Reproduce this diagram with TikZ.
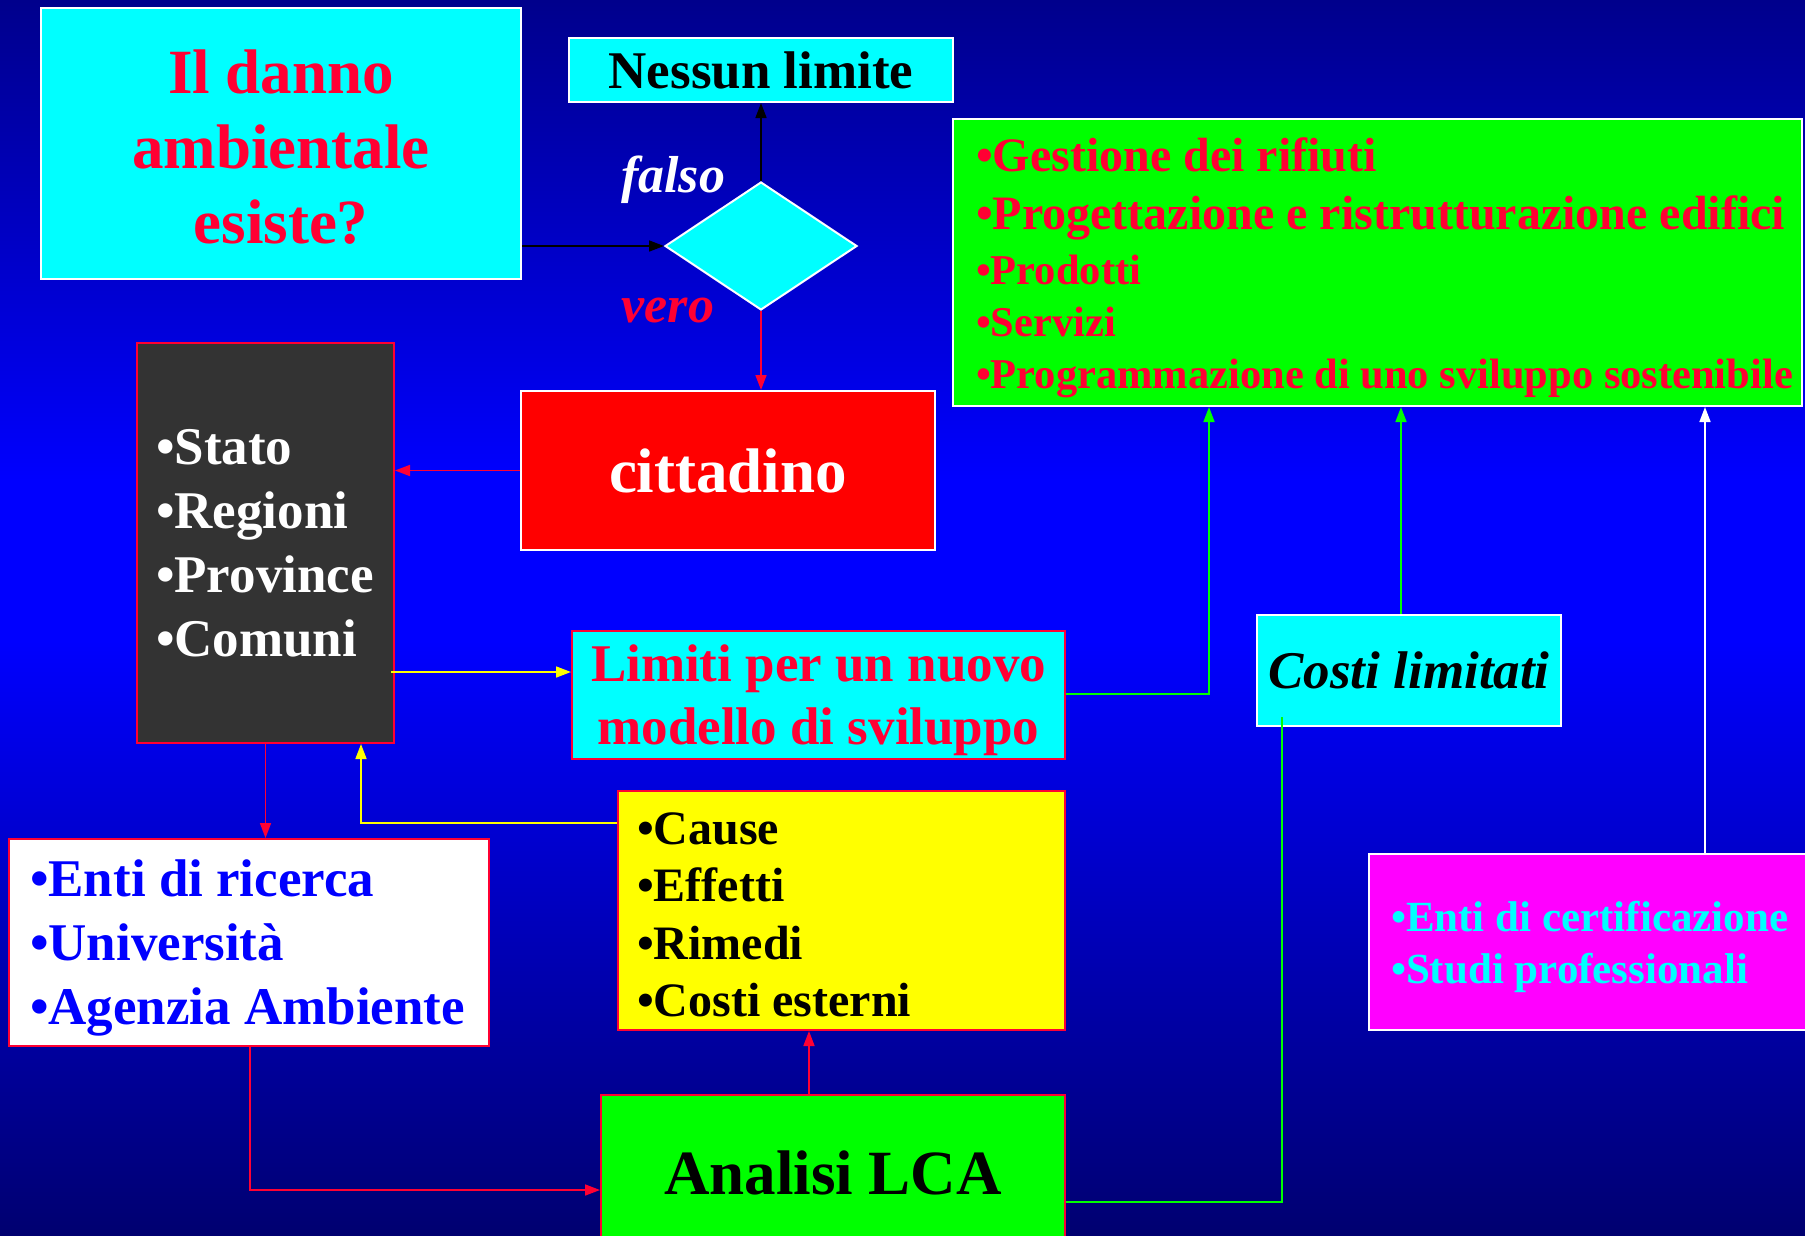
\documentclass[tikz,border=0pt]{standalone}
\usepackage{fontspec}
\setmainfont{Liberation Serif}
\usetikzlibrary{shapes,arrows.meta,positioning}
\definecolor{bgtop}{RGB}{0,0,140}
\definecolor{bgmid}{RGB}{0,0,255}
\definecolor{bgbot}{RGB}{0,0,112}
\definecolor{testo}{RGB}{255,0,51}
\definecolor{scuro}{RGB}{51,51,51}
\definecolor{ciano}{RGB}{0,255,255}
\definecolor{verde}{RGB}{0,255,0}
\definecolor{giallo}{RGB}{255,255,0}
\definecolor{viola}{RGB}{255,0,255}
\definecolor{blu}{RGB}{0,0,255}

\begin{document}
\begin{tikzpicture}[x=1pt,y=-1pt,>={Triangle[length=15pt,width=11pt]}]
      \tikzstyle{box} = [rectangle, draw=white, line width=2pt, inner sep=0pt]
      \tikzstyle{lista} = [box, align=flush left]
      \tikzstyle{conn} = [->, line width=1.6pt]

      % sfondo
      \useasboundingbox (0,0) rectangle (1805,1235);
      \clip (0,0) rectangle (1805,1235);
      \shade[top color=bgtop, bottom color=bgmid] (0,0) rectangle (1805,481);
      \fill[bgmid] (0,480) rectangle (1805,641);
      \shade[top color=bgmid, bottom color=bgbot] (0,640) rectangle (1805,1235);

      \node[box, fill=ciano, text=testo, minimum width=480, minimum height=271, align=center,
            font=\fontsize{63}{75}\selectfont\bfseries] (domanda) at (281,143.5) {\rule{0pt}{50pt}Il danno\\ambientale\\esiste?};
      \node[box, fill=ciano, minimum width=384, minimum height=64,
            font=\fontsize{53}{64}\selectfont\bfseries] (nessun) at (761,70) {Nessun limite};
      \node[diamond, draw=white, line width=2pt, fill=ciano, minimum width=192, minimum height=128,
            inner sep=0pt] (scelta) at (761,246) {};
      \node[text=white, font=\fontsize{52}{60}\selectfont\bfseries\itshape] (falso) at (673,180) {falso};
      \node[text=testo, font=\fontsize{52}{60}\selectfont\bfseries\itshape] (vero) at (668,310) {vero};

      \node[lista, fill=verde, text=testo, text width=803, inner xsep=23pt, minimum height=287,
            font=\fontsize{48}{52}\selectfont\bfseries] (ambiti) at (1377.5,262.5)
            {\rule{0pt}{45pt}•Gestione dei rifiuti\\[6pt]\mbox{•Progettazione e ristrutturazione edifici}\\[3pt]\fontsize{42.5}{52}\selectfont
             •Prodotti\\•Servizi\\\mbox{•Programmazione di uno sviluppo sostenibile}};

      \node[lista, draw=testo, fill=scuro, text=white, text width=219, inner xsep=19pt, minimum height=400,
            font=\fontsize{53}{64}\selectfont\bfseries] (enti) at (265.5,543)
            {•Stato\\•Regioni\\•Province\\•Comuni};
      \node[box, fill=red, text=white, minimum width=414, minimum height=159,
            font=\fontsize{63}{75}\selectfont\bfseries] (cit) at (728,470.5) {cittadino};
      \node[box, draw=testo, fill=ciano, text=testo, minimum width=493, minimum height=128, align=center,
            font=\fontsize{53}{63}\selectfont\bfseries] (lim) at (818.5,695) {\rule{0pt}{47pt}Limiti per un nuovo\\modello di sviluppo};
      \node[box, fill=ciano, minimum width=304, minimum height=111,
            font=\fontsize{53}{63}\selectfont\bfseries\itshape] (costi) at (1409,670.5) {Costi limitati};

      \node[lista, draw=testo, fill=white, text=blu, text width=438, inner xsep=21pt, minimum height=207,
            font=\fontsize{53}{64}\selectfont\bfseries] (ricerca) at (249,942.5)
            {\rule{0pt}{47pt}•Enti di ricerca\\•Università\\•Agenzia Ambiente};
      \node[lista, draw=testo, fill=giallo, text width=409, inner xsep=19pt, minimum height=239,
            font=\fontsize{48}{57.5}\selectfont\bfseries] (cause) at (841.5,910.5)
            {\rule{0pt}{40pt}•Cause\\•Effetti\\•Rimedi\\•Costi esterni};
      \node[box, draw=testo, fill=verde, minimum width=464, minimum height=155,
            font=\fontsize{63}{75}\selectfont\bfseries] (lca) at (833,1172.5) {Analisi LCA};
      \node[lista, fill=viola, text=ciano, text width=402, inner xsep=22pt, minimum height=176,
            font=\fontsize{43}{52}\selectfont\bfseries] (cert) at (1592,942)
            {\rule{0pt}{41pt}•Enti di certificazione\\•Studi professionali};

      \coordinate (y1) at (391,672);
      \coordinate (y2) at (361,823);
      \coordinate (r1) at (250,1190);
      \coordinate (r2) at (809,1095);
      \coordinate (g1) at (1209,694);
      \coordinate (g2) at (1401,615);
      \coordinate (g3) at (1282,1202);
      \coordinate (g4) at (1282,717);
      \coordinate (w1) at (1705,854);

      \draw[conn, black] (domanda.east |- scelta) -- (scelta.west);
      \draw[conn, black] (scelta.north) -- (nessun.south);
      \draw[conn, testo] (scelta.south) -- (cit.north -| scelta);
      \draw[conn, testo] (cit.west) -- (cit.west -| enti.east);
      \draw[conn, testo] (enti.south) -- (enti.south |- ricerca.north);
      \draw[conn, giallo] (y1) -- (y1 -| lim.west);
      \draw[conn, giallo] (y2 -| cause.west) -- (y2) -- (y2 |- enti.south);
      \draw[conn, testo] (r1 |- ricerca.south) -- (r1) -- (r1 -| lca.west);
      \draw[conn, testo] (r2 |- lca.north) -- (r2 |- cause.south);
      \draw[conn, verde] (lim.east |- g1) -- (g1) -- (g1 |- ambiti.south);
      \draw[conn, verde] (g2 |- costi.north) -- (g2 |- ambiti.south);
      \draw[verde, line width=1.6pt] (g3 -| lca.east) -- (g3) -- (g4);
      \draw[conn, white] (w1 |- cert.north) -- (w1 |- ambiti.south);
    \end{tikzpicture}
\end{document}
